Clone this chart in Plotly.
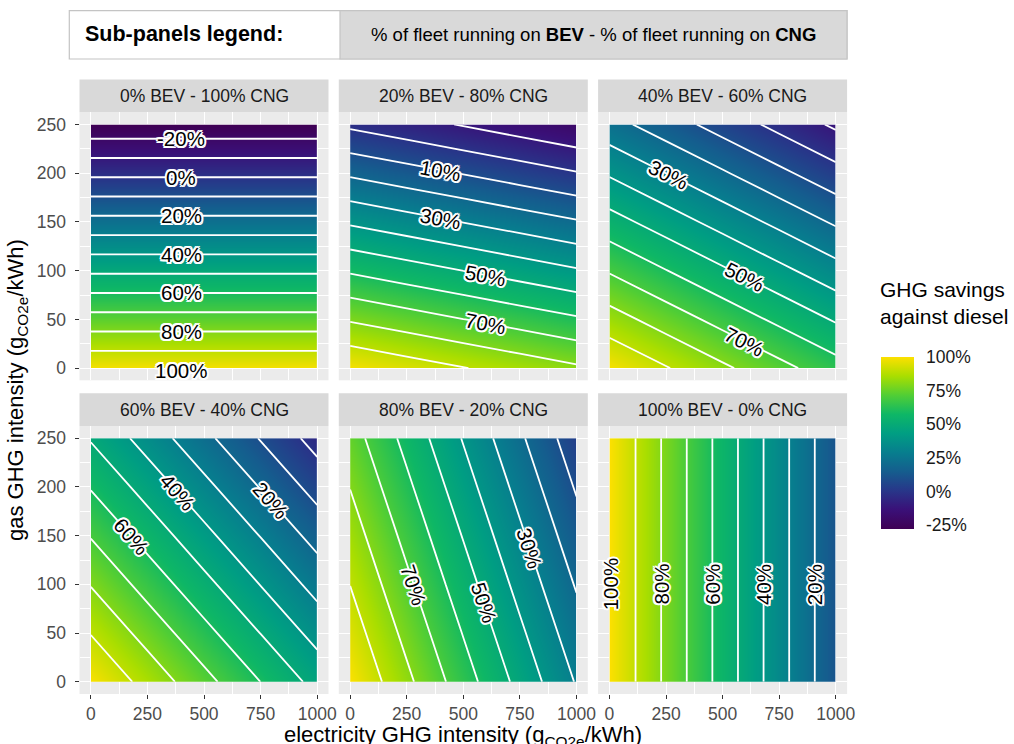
import math
import plotly.graph_objects as go

# ---------------- data ----------------
elec = [0, 250, 500, 750, 1000]                     # electricity GHG intensity (gCO2e/kWh)
bev_savings = [100.2, 78.1, 56.0, 33.9, 11.8]         # % savings of a BEV vs diesel at those intensities
gas = [0, 50, 100, 150, 200, 250]                     # gas GHG intensity (gCO2e/kWh)
cng_savings = [99.0, 73.7, 48.4, 23.2, -2.1, -27.4]   # % savings of a CNG truck vs diesel
bev_share = [0, 20, 40, 60, 80, 100]                  # % of fleet running on BEV (one panel each)
contour_start, contour_end, contour_step = -20, 90, 10
x_ticks = [0, 250, 500, 750, 1000]
y_ticks = [0, 50, 100, 150, 200, 250]
cbar_ticks = [-25, 0, 25, 50, 75, 100]
# labelled contour levels per panel, with the axis value where the label sits
label_levels = [
    [(-20, "e", 400), (0, "e", 400), (20, "e", 400), (40, "e", 400), (60, "e", 400), (80, "e", 400), (100, "e", 400)],
    [(10, "e", 400), (30, "e", 400), (50, "e", 600), (70, "e", 600)],
    [(30, "e", 260), (50, "e", 595), (70, "e", 595)],
    [(60, "e", 180), (40, "e", 385), (20, "e", 795)],
    [(70, "g", 99), (50, "g", 81), (30, "g", 137)],
    [(100, "g", 100), (80, "g", 100), (60, "g", 100), (40, "g", 100), (20, "g", 100)],
]
viridis_keys = ["#440154", "#482878", "#3e4989", "#31688e", "#26828e",
                "#1f9e89", "#35b779", "#6ece58", "#b5de2b", "#fde725"]

# ---------------- layout geometry (reference pixels, stored as paper fractions) ----------------
W, H = 1014, 744
FIG_W = 1022   # the page is captured from a slightly wider viewport and scaled to 1014
FONT = "Liberation Sans, Arial, sans-serif"
col_x0 = [79.5, 338.8, 598.1]
col_w = 249.0
row_y0 = [112.3, 426.0]
row_h = 268.0
strip_h = 32.8
xr = [-50, 1050]
yr = [-12.5, 262.5]
sx = col_w / (xr[1] - xr[0])
sy = row_h / (yr[1] - yr[0])


def saturate(hexcol, k=1.3):
    r, g, b = (int(hexcol[i:i + 2], 16) for i in (1, 3, 5))
    v = max(r, g, b)
    out = [max(0, min(255, round(v - (v - ch) * k))) for ch in (r, g, b)]
    return "#%02x%02x%02x" % tuple(out)


colorscale = [[i / (len(viridis_keys) - 1), saturate(c)] for i, c in enumerate(viridis_keys)]


def lin(v, xs, ys):
    n = len(xs)
    for i in range(n - 1):
        if v <= xs[i + 1] or i == n - 2:
            t = (v - xs[i]) / (xs[i + 1] - xs[i])
            return ys[i] + t * (ys[i + 1] - ys[i])


def inv(val, xs, ys):
    return lin(val, ys[::-1], xs[::-1])


fig = go.Figure()
shapes = []
annotations = []
HALO = ", ".join(f"{a}px {b}px 0 white" for a, b in
                 [(1.6, 1.6), (-1.6, -1.6), (1.6, -1.6), (-1.6, 1.6), (0, 2), (0, -2), (2, 0), (-2, 0)])

for k, share in enumerate(bev_share):
    r, c = divmod(k, 3)
    p = share / 100.0
    idx = "" if k == 0 else str(k + 1)
    z = [[(1 - p) * cg + p * bv for bv in bev_savings] for cg in cng_savings]
    fig.add_trace(go.Contour(
        x=elec, y=gas, z=z, coloraxis="coloraxis",
        contours=dict(coloring="heatmap", start=contour_start, end=contour_end,
                      size=contour_step, showlines=True),
        line=dict(color="white", width=1.8, smoothing=0),
        hoverinfo="skip", xaxis="x" + idx, yaxis="y" + idx,
    ))
    x0 = col_x0[c]
    y0 = row_y0[r]
    common = dict(showline=False, zeroline=False, gridcolor="white", gridwidth=1.1,
                  tickcolor="#333333", ticklen=4, tickwidth=1.1,
                  tickfont=dict(family=FONT, size=17.5, color="#4D4D4D"))
    fig.layout["xaxis" + idx] = dict(
        domain=[x0 / W, (x0 + col_w) / W], anchor="y" + idx, range=xr,
        tickvals=x_ticks, ticktext=[str(v) for v in x_ticks],
        minor=dict(tickvals=[125, 375, 625, 875], showgrid=True, gridcolor="white", gridwidth=0.55),
        ticks="outside" if r == 1 else "", showticklabels=(r == 1), ticklabelstandoff=0, **common)
    fig.layout["yaxis" + idx] = dict(
        domain=[1 - (y0 + row_h) / H, 1 - y0 / H], anchor="x" + idx, range=yr,
        tickvals=y_ticks, ticktext=[str(v) for v in y_ticks],
        minor=dict(tickvals=[25, 75, 125, 175, 225], showgrid=True, gridcolor="white", gridwidth=0.55),
        ticks="outside" if c == 0 else "", showticklabels=(c == 0), ticklabelstandoff=5, **common)
    # strip
    shapes.append(dict(type="rect", xref="paper", yref="paper",
                       x0=x0 / W, x1=(x0 + col_w) / W, y0=1 - y0 / H, y1=1 - (y0 - strip_h) / H,
                       fillcolor="#D9D9D9", line=dict(width=0), layer="below"))
    annotations.append(dict(xref="paper", yref="paper", x=(x0 + col_w / 2) / W,
                            y=1 - (y0 - strip_h / 2) / H, xanchor="center", yanchor="middle",
                            text=f"{share}% BEV - {100 - share}% CNG", showarrow=False,
                            font=dict(family=FONT, size=17.5, color="#1A1A1A")))
    # contour labels
    dbev = (bev_savings[-1] - bev_savings[0]) / (elec[-1] - elec[0])
    dcng = (cng_savings[-1] - cng_savings[0]) / (gas[-1] - gas[0])
    gX = p * dbev / sx
    gY = -(1 - p) * dcng / sy
    ang = math.degrees(math.atan2(gX, -gY))
    while ang >= 90:
        ang -= 180
    while ang < -90:
        ang += 180
    for lev, mode, v in label_levels[k]:
        if mode == "e":
            ev = v
            target = (lev - p * lin(ev, elec, bev_savings)) / (1 - p)
            gv = inv(target, gas, cng_savings)
        else:
            gv = v
            target = (lev - (1 - p) * lin(gv, gas, cng_savings)) / p
            ev = inv(target, elec, bev_savings)
        annotations.append(dict(
            x=ev, y=gv, xref="x" + idx, yref="y" + idx, text=f"{lev}%", showarrow=False,
            textangle=ang, xanchor="center", yanchor="middle",
            font=dict(family=FONT, size=20.5, color="black", shadow=HALO)))

# ---------------- colour bar ----------------
zmin = min(cng_savings + bev_savings)
zmax = max(cng_savings + bev_savings)
cb_x0, cb_x1 = 880.7, 914.0
cb_top, cb_bot = 356.7, 528.3
fig.update_layout(coloraxis=dict(
    colorscale=colorscale, cmin=zmin, cmax=zmax,
    colorbar=dict(x=cb_x0 / W, xanchor="left", xpad=0, ypad=0, thickness=cb_x1 - cb_x0,
                  len=(cb_bot - cb_top) / H, lenmode="fraction", y=1 - (cb_top + cb_bot) / 2 / H,
                  yanchor="middle", outlinewidth=0, tickvals=cbar_ticks,
                  ticktext=[f"{v}%" for v in cbar_ticks], ticks="outside", ticklen=9,
                  tickcolor="rgba(0,0,0,0)",
                  tickfont=dict(family=FONT, size=17.5, color="#1A1A1A"))))
for v in cbar_ticks:
    yp = cb_bot - (v - zmin) / (zmax - zmin) * (cb_bot - cb_top)
    for xa, xb in ((cb_x0, cb_x0 + 6.5), (cb_x1 - 6.5, cb_x1)):
        shapes.append(dict(type="line", xref="paper", yref="paper", x0=xa / W, x1=xb / W,
                           y0=1 - yp / H, y1=1 - yp / H, line=dict(color="white", width=1)))
annotations.append(dict(xref="paper", yref="paper", x=878 / W, y=1 - 303 / H, xanchor="left",
                        yanchor="middle", align="left", showarrow=False,
                        text="GHG savings<br>against diesel",
                        font=dict(family=FONT, size=21, color="black")))

# ---------------- axis titles ----------------
annotations.append(dict(xref="paper", yref="paper", x=463 / W, y=1 - 736 / H, xanchor="center",
                        yanchor="middle", showarrow=False,
                        text="electricity GHG intensity (g<sub>CO2e</sub>/kWh)",
                        font=dict(family=FONT, size=22, color="black")))
annotations.append(dict(xref="paper", yref="paper", x=17 / W, y=1 - 390 / H, xanchor="center",
                        yanchor="middle", showarrow=False, textangle=-90,
                        text="gas GHG intensity (g<sub>CO2e</sub>/kWh)",
                        font=dict(family=FONT, size=22, color="black")))

# ---------------- sub-panels legend box ----------------
shapes.append(dict(type="rect", xref="paper", yref="paper", x0=69.3 / W, x1=847 / W,
                   y0=1 - 59 / H, y1=1 - 10.7 / H, fillcolor="white",
                   line=dict(color="#C4C4C4", width=1.2)))
shapes.append(dict(type="rect", xref="paper", yref="paper", x0=340 / W, x1=847 / W,
                   y0=1 - 59 / H, y1=1 - 10.7 / H, fillcolor="#D9D9D9",
                   line=dict(color="#C4C4C4", width=1.2)))
annotations.append(dict(xref="paper", yref="paper", x=83 / W, y=1 - 34 / H, xanchor="left",
                        yanchor="middle", showarrow=False, text="<b>Sub-panels legend:</b>",
                        font=dict(family=FONT, size=21.5, color="black")))
annotations.append(dict(xref="paper", yref="paper", x=593.5 / W, y=1 - 35 / H, xanchor="center",
                        yanchor="middle", showarrow=False,
                        text="% of fleet running on <b>BEV</b> - % of fleet running on <b>CNG</b>",
                        font=dict(family=FONT, size=18.5, color="black")))

fig.update_layout(width=FIG_W, height=H, margin=dict(l=0, r=0, t=0, b=0),
                  paper_bgcolor="white", plot_bgcolor="#EBEBEB", showlegend=False,
                  shapes=shapes, annotations=annotations,
                  font=dict(family=FONT))
fig.write_html("out.html",
               config={"displayModeBar": False, "responsive": False},
               post_script="document.body.style.margin='0px';document.body.style.overflow='hidden';")
